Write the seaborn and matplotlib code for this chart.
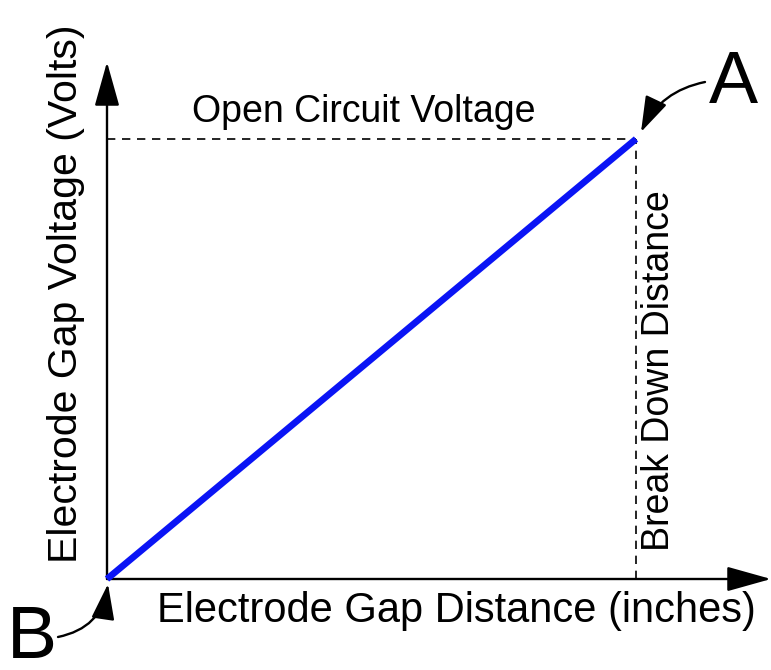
import matplotlib
matplotlib.use("Agg")
import matplotlib.pyplot as plt
import seaborn as sns
import pandas as pd

# Linear rise of gap voltage with electrode gap distance (normalised units)
gap_distance = [0.0, 1.0]
gap_voltage = [0.0, 1.0]

x_label = "Electrode Gap Distance (inches)"
y_label = "Electrode Gap Voltage (Volts)"
top_label = "Open Circuit Voltage"
side_label = "Break Down Distance"

sns.set_theme(style="white")
plt.rcParams["font.family"] = ["Liberation Sans", "DejaVu Sans"]
plt.rcParams["text.color"] = "black"

W, H = 771, 670
fig = plt.figure(figsize=(W / 100, H / 100), dpi=100)
# origin at pixel (107, 579), point A at pixel (636, 139)
x0, y0, x1, y1 = 107, 579, 636, 139
ax = fig.add_axes([x0 / W, (H - y0) / H, (x1 - x0) / W, (y0 - y1) / H])
ax.set_xlim(0, 1)
ax.set_ylim(0, 1)
ax.axis("off")

def px(x, y):
    return ((x - x0) / (x1 - x0), (y0 - y) / (y0 - y1))

df = pd.DataFrame({"distance": gap_distance, "voltage": gap_voltage})
sns.lineplot(data=df, x="distance", y="voltage", color="#0a14f5",
             linewidth=4.8, ax=ax, clip_on=False, solid_capstyle="butt", zorder=5)

# dashed guides to point A
xa, ya = gap_distance[-1], gap_voltage[-1]
ax.plot([0, xa], [ya, ya], ls=(0, (5, 4)), color="black", lw=1.2, clip_on=False)
ax.plot([xa, xa], [0, ya], ls=(0, (5, 4)), color="black", lw=1.2, clip_on=False)

# axis arrows
arrow_kw = dict(arrowstyle="-|>,head_length=2.5,head_width=0.7", color="black",
                lw=1.7, shrinkA=0, shrinkB=0, mutation_scale=11)
ax.annotate("", xy=px(107, 62), xytext=(0, 0), arrowprops=arrow_kw,
            annotation_clip=False)
ax.annotate("", xy=px(771, 579), xytext=(0, 0), arrowprops=arrow_kw,
            annotation_clip=False)

# labels
ax.text(*px(364, 112), top_label, ha="center", va="center", fontsize=27)
ax.text(*px(456, 611), x_label, ha="center", va="center", fontsize=30)
ax.text(*px(66, 294), y_label, ha="center", va="center", fontsize=29.5,
        rotation=90)
ax.text(*px(659, 371), side_label, ha="center", va="center", fontsize=27,
        rotation=90)
ax.text(*px(733, 83), "A", ha="center", va="center", fontsize=53)
ax.text(*px(32, 638), "B", ha="center", va="center", fontsize=54)

# curved pointers to A and B
curve_kw = dict(arrowstyle="-|>,head_length=2.0,head_width=0.65", color="black",
                lw=1.7, shrinkA=0, shrinkB=0, mutation_scale=11)
ax.annotate("", xy=px(641, 132), xytext=px(705, 82),
            arrowprops=dict(connectionstyle="arc3,rad=0.25", **curve_kw),
            annotation_clip=False)
ax.annotate("", xy=px(108, 584), xytext=px(58, 637),
            arrowprops=dict(connectionstyle="arc3,rad=0.35", **curve_kw),
            annotation_clip=False)

fig.savefig("out.png", dpi=100, facecolor="white")
